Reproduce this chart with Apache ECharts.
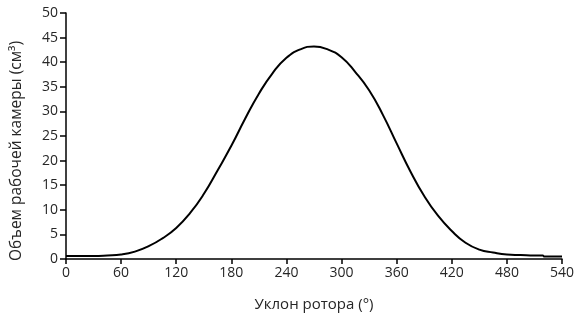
<!DOCTYPE html>
<html>
<head>
<meta charset="utf-8">
<script src="https://cdn.jsdelivr.net/npm/echarts@6/dist/echarts.min.js"></script>
<style>
  html, body { margin: 0; padding: 0; background: #fff; }
  #main { width: 577px; height: 325px; }
</style>
</head>
<body>
<div id="main"></div>
<script>
// angle of rotor (deg) and chamber volume (cm3)
var angles = [0, 15, 30, 45, 60, 75, 90, 105, 120, 135, 150, 165, 180, 195, 210, 225, 240, 255, 270,
  285, 300, 315, 330, 345, 360, 375, 390, 405, 420, 435, 450, 465, 480, 495, 510, 519, 521, 540];
var volume = [0.6, 0.6, 0.6, 0.7, 0.9, 1.5, 2.6, 4.2, 6.3, 9.3, 13.2, 18.0, 23.0, 28.5, 33.6, 37.8, 40.9, 42.6, 43.2,
  42.6, 41.0, 38.0, 34.3, 29.3, 23.5, 17.8, 12.8, 8.8, 5.7, 3.3, 1.9, 1.3, 0.9, 0.8, 0.7, 0.7, 0.5, 0.5];
var xTicks = [0, 60, 120, 180, 240, 300, 360, 420, 480, 540];
var yTicks = [0, 5, 10, 15, 20, 25, 30, 35, 40, 45, 50];

var points = [];
for (var i = 0; i < angles.length; i++) {
  points.push([angles[i], volume[i]]);
}

var txt = '#262626';
var font = '"Open Sans", "Noto Sans", sans-serif';

var myChart = echarts.init(document.getElementById('main'));
myChart.setOption({
  animation: false,
  grid: { left: 66, right: 13, top: 13, bottom: 66 },
  xAxis: {
    type: 'value',
    min: xTicks[0],
    max: xTicks[xTicks.length - 1],
    interval: 60,
    name: 'Уклон ротора (°)',
    nameLocation: 'middle',
    nameGap: 38,
    nameTextStyle: { fontSize: 15, color: txt, fontFamily: font },
    axisLine: { show: true, lineStyle: { color: '#000', width: 1.5 } },
    axisTick: { show: true, inside: false, length: 5, lineStyle: { color: '#000', width: 1.5 } },
    axisLabel: { fontSize: 14, color: txt, fontFamily: font, margin: 7 },
    splitLine: { show: false }
  },
  yAxis: {
    type: 'value',
    min: yTicks[0],
    max: yTicks[yTicks.length - 1],
    interval: 5,
    axisLine: { show: true, lineStyle: { color: '#000', width: 1.5 } },
    axisTick: { show: true, inside: false, length: 6, lineStyle: { color: '#000', width: 1.5 } },
    axisLabel: { fontSize: 14, color: txt, fontFamily: font, margin: 8 },
    splitLine: { show: false }
  },
  graphic: [{
    type: 'text',
    x: 17,
    y: 151,
    rotation: Math.PI / 2,
    style: {
      text: 'Объем рабочей камеры (см³)',
      fontSize: 15.5,
      fontFamily: font,
      fill: txt,
      align: 'center',
      verticalAlign: 'middle'
    }
  }],
  series: [{
    type: 'line',
    data: points,
    smooth: 0.5,
    showSymbol: false,
    lineStyle: { color: '#000', width: 2 }
  }]
});
</script>
</body>
</html>
